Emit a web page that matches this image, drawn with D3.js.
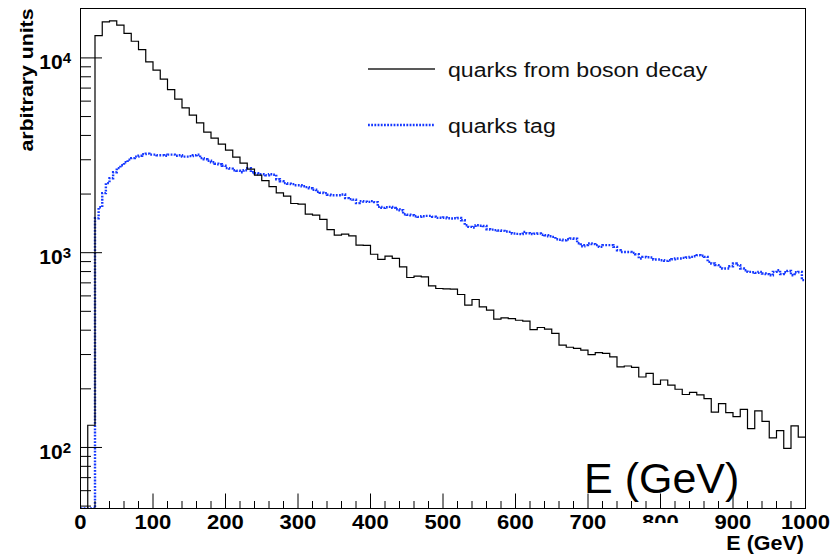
<!DOCTYPE html>
<html>
<head>
<meta charset="utf-8">
<script src="https://cdnjs.cloudflare.com/ajax/libs/d3/7.8.5/d3.min.js"></script>
<style>
  body { margin: 0; background: #fff; }
  svg { display: block; font-family: "Liberation Sans", Arial, Helvetica, sans-serif; }
</style>
</head>
<body>
<svg id="chart"></svg>
<script>
var width = 835, height = 558;

// histogram contents
// quarks from boson decay : 100 bins of 10 GeV
var bosonBinWidth = 10;
var bosonCounts = [
  0, 130, 13030, 15300, 15490, 14740, 13350, 12180, 11040, 9540,
  8650, 7775, 6880, 6140, 5540, 5080, 4640, 4155, 3870, 3606,
  3360, 3092, 2880, 2683, 2500, 2342, 2182, 2028, 1950, 1789,
  1774, 1577, 1560, 1481, 1315, 1230, 1245, 1220, 1093, 1090,
  982, 923, 960, 934, 846, 746, 758, 751, 675, 655,
  652, 650, 610, 538, 575, 527, 507, 456, 463, 459,
  450, 445, 403, 413, 405, 385, 335, 327, 323, 316,
  300, 307, 304, 292, 259, 262, 258, 230, 240, 211,
  222, 209, 199, 187, 192, 186, 178, 152, 168, 151,
  144, 157, 125, 154, 136, 112, 122, 99, 129, 113
];

// quarks tag : 200 bins of 5 GeV
var tagBinWidth = 5;
var tagCounts = [
  0, 0, 0, 0, 1503, 1712, 2021, 2275, 2413, 2590,
  2716, 2813, 2915, 3003, 3057, 3112, 3148, 3205, 3224, 3186,
  3186, 3167, 3167, 3148, 3186, 3186, 3148, 3167, 3112, 3112,
  3130, 3167, 3186, 3057, 3020, 2967, 2915, 2864, 2847, 2796,
  2716, 2700, 2652, 2636, 2590, 2652, 2716, 2590, 2559, 2529,
  2529, 2499, 2529, 2514, 2384, 2328, 2275, 2261, 2248, 2221,
  2221, 2195, 2170, 2144, 2106, 2056, 2032, 2021, 1985, 1973,
  1973, 1973, 1990, 1905, 1883, 1872, 1796, 1839, 1828, 1823,
  1839, 1817, 1719, 1698, 1712, 1719, 1698, 1672, 1652, 1576,
  1567, 1558, 1539, 1527, 1539, 1545, 1545, 1530, 1509, 1512,
  1516, 1503, 1498, 1503, 1509, 1468, 1384, 1357, 1347, 1384,
  1376, 1372, 1320, 1313, 1305, 1300, 1294, 1285, 1279, 1255,
  1249, 1245, 1279, 1259, 1245, 1252, 1255, 1237, 1230, 1215,
  1205, 1173, 1166, 1159, 1173, 1183, 1180, 1119, 1080, 1093,
  1115, 1106, 1093, 1071, 1093, 1093, 1093, 1071, 1030, 1009,
  1009, 1009, 998, 982, 934, 952, 948, 945, 923, 923,
  915, 908, 915, 926, 934, 934, 940, 945, 952, 959,
  971, 965, 952, 897, 880, 863, 846, 830, 830, 852,
  880, 863, 830, 813, 797, 794, 788, 797, 782, 776,
  766, 797, 813, 776, 794, 806, 766, 794, 797, 723
];

var xDomain = [0, 1000];
var yDomain = [48.6, 17935];
var xMajorTicks = [0, 100, 200, 300, 400, 500, 600, 700, 800, 900, 1000];
var yMajorTicks = [100, 1000, 10000];
var seriesNames = ["quarks from boson decay", "quarks tag"];
var xTitle = "E  (GeV)";
var yTitle = "arbitrary units";
var bigLabel = "E (GeV)";

var svg = d3.select("#chart")
  .attr("width", width)
  .attr("height", height);

var x = d3.scaleLinear().domain(xDomain).range([80, 805]);
var y = d3.scaleLog().domain(yDomain).range([508, 8]);

svg.append("rect")
  .attr("width", width).attr("height", height).attr("fill", "#fff");

var defs = svg.append("defs");
defs.append("clipPath").attr("id", "plotClip")
  .append("rect")
  .attr("x", x(xDomain[0])).attr("y", y(yDomain[1]))
  .attr("width", x(xDomain[1]) - x(xDomain[0]) + 1)
  .attr("height", y(yDomain[0]) - y(yDomain[1]) + 1);

// histograms
function histPoints(counts, binWidth) {
  var pts = counts.map(function(v, i) { return [i * binWidth, v]; });
  pts.push([counts.length * binWidth, counts[counts.length - 1]]);
  return pts;
}

var histLine = d3.line()
  .curve(d3.curveStepAfter)
  .x(function(d) { return x(d[0]) + 0.5; })
  .y(function(d) { return y(Math.max(d[1], yDomain[0])) + 0.5; });

var plot = svg.append("g").attr("clip-path", "url(#plotClip)");

plot.append("path")
  .attr("d", histLine(histPoints(tagCounts, tagBinWidth)))
  .attr("fill", "none")
  .attr("stroke", "#1538ff")
  .attr("stroke-width", 2.4)
  .attr("stroke-dasharray", "1.8,1.4");

plot.append("path")
  .attr("d", histLine(histPoints(bosonCounts, bosonBinWidth)))
  .attr("fill", "none")
  .attr("stroke", "#000")
  .attr("stroke-width", 1.2);

// frame
svg.append("rect")
  .attr("x", x(xDomain[0]) + 0.5).attr("y", y(yDomain[1]) + 0.5)
  .attr("width", x(xDomain[1]) - x(xDomain[0]))
  .attr("height", y(yDomain[0]) - y(yDomain[1]))
  .attr("fill", "none").attr("stroke", "#000").attr("stroke-width", 1);

// x axis
var xMinor = d3.range(0, 1001, 20).filter(function(v) { return v % 100 !== 0; });

var xMinorG = svg.append("g")
  .attr("transform", "translate(0," + (y(yDomain[0]) + 0.5) + ")")
  .call(d3.axisBottom(x).tickValues(xMinor).tickSize(-7.5).tickFormat(""));

var xAxisG = svg.append("g")
  .attr("transform", "translate(0," + (y(yDomain[0]) + 0.5) + ")")
  .call(d3.axisBottom(x).tickValues(xMajorTicks).tickSize(-15).tickFormat(d3.format("d")));

xAxisG.selectAll(".tick text")
  .attr("y", 21).attr("dy", null)
  .attr("fill", "#000")
  .attr("font-family", "Liberation Sans, Arial, sans-serif")
  .attr("font-size", 21).attr("font-weight", "bold")
  .attr("transform", "scale(1.05,1)");

// the 800 label is partly hidden in the original
defs.append("clipPath").attr("id", "clip800")
  .append("rect").attr("x", -40).attr("y", -10).attr("width", 80).attr("height", 24.5);
xAxisG.selectAll(".tick text")
  .filter(function(d) { return d === 800; })
  .attr("clip-path", "url(#clip800)");

// y axis
var yMinor = [];
[10, 100, 1000, 10000].forEach(function(dec) {
  for (var m = 2; m <= 9; m++) {
    var v = m * dec;
    if (v >= yDomain[0] && v <= yDomain[1]) yMinor.push(v);
  }
});

var yMinorG = svg.append("g")
  .attr("transform", "translate(" + (x(xDomain[0]) + 0.5) + ",0)")
  .call(d3.axisLeft(y).tickValues(yMinor).tickSize(-10.5).tickFormat(""));

var yAxisG = svg.append("g")
  .attr("transform", "translate(" + (x(xDomain[0]) + 0.5) + ",0)")
  .call(d3.axisLeft(y).tickValues(yMajorTicks).tickSize(-21.5).tickFormat(""));

yAxisG.selectAll(".tick text").each(function(d) {
  var t = d3.select(this)
    .attr("x", -9.5).attr("y", 11.5).attr("dy", null)
    .attr("fill", "#000")
    .attr("font-family", "Liberation Sans, Arial, sans-serif")
    .attr("font-size", 21).attr("font-weight", "bold");
  t.append("tspan").text("10");
  t.append("tspan").attr("dy", -6).attr("font-size", 15)
    .text(Math.round(Math.log10(d)));
});

[xMinorG, xAxisG, yMinorG, yAxisG].forEach(function(g) {
  g.select(".domain").remove();
  g.selectAll(".tick line").attr("stroke", "#000").attr("stroke-width", 1);
});

// axis titles
svg.append("text")
  .attr("transform", "translate(804,550) scale(1.05,1)")
  .attr("text-anchor", "end")
  .attr("font-size", 20.5).attr("font-weight", "bold")
  .text(xTitle);

svg.append("text")
  .attr("transform", "translate(32.5,8.5) rotate(-90) scale(1.15,1)")
  .attr("text-anchor", "end")
  .attr("font-size", 18.5).attr("font-weight", "bold")
  .text(yTitle);

// big label inside the frame
svg.append("text")
  .attr("x", 584).attr("y", 493)
  .attr("font-size", 43)
  .text(bigLabel);

// legend
var legendRows = [
  { name: seriesNames[0], color: "#222", width: 1.3, dash: null, ly: 69 },
  { name: seriesNames[1], color: "#1538ff", width: 2.4, dash: "1.8,1.4", ly: 125 }
];

var legend = svg.append("g");
legendRows.forEach(function(r) {
  legend.append("line")
    .attr("x1", 368).attr("x2", 435)
    .attr("y1", r.ly).attr("y2", r.ly)
    .attr("stroke", r.color)
    .attr("stroke-width", r.width)
    .attr("stroke-dasharray", r.dash);
  legend.append("text")
    .attr("transform", "translate(448," + (r.ly + 8) + ") scale(1.1,1)")
    .attr("font-size", 21)
    .attr("fill", "#111")
    .text(r.name);
});
</script>
</body>
</html>
